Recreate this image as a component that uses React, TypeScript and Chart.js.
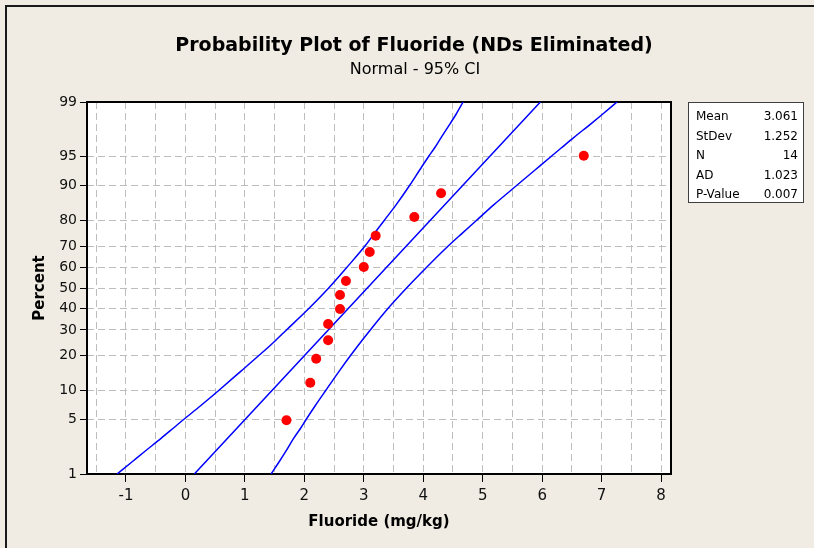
import React, { useEffect, useRef } from "react";
import { Chart, registerables } from "chart.js";

Chart.register(...registerables);

// ---- data ----
const FLUORIDE = [1.7, 2.1, 2.2, 2.4, 2.4, 2.6, 2.6, 2.7, 3.0, 3.1, 3.2, 3.85, 4.3, 6.7];
const PERCENT = [4.9, 11.8, 18.8, 25.7, 32.6, 39.6, 46.5, 53.5, 60.4, 67.4, 74.3, 81.3, 88.2, 95.1];

// fitted line (percent -> fluoride)
const FIT_PCT = [1, 99];
const FIT_X = [0.15, 5.97];

// 95% confidence band, read at percent levels
const CI_PCT = [1, 1.5, 2, 3, 4, 5, 7, 10, 15, 20, 25, 30, 40, 50, 60, 70, 75, 80, 85, 90, 93, 95, 96, 97, 98, 98.5, 99];
const CI_LEFT = [-1.15, -0.89, -0.7, -0.41, -0.2, -0.03, 0.25, 0.56, 0.94, 1.24, 1.49, 1.7, 2.08, 2.41, 2.71, 3.02, 3.17, 3.34, 3.54, 3.77, 3.94, 4.09, 4.19, 4.3, 4.45, 4.55, 4.67];
const CI_RIGHT = [1.44, 1.58, 1.68, 1.82, 1.94, 2.03, 2.18, 2.36, 2.59, 2.78, 2.95, 3.11, 3.41, 3.72, 4.05, 4.42, 4.64, 4.89, 5.18, 5.57, 5.88, 6.15, 6.32, 6.53, 6.82, 7.01, 7.26];

const Y_TICKS = [1, 5, 10, 20, 30, 40, 50, 60, 70, 80, 90, 95, 99];
const X_TICKS = [-1.5, -1, -0.5, 0, 0.5, 1, 1.5, 2, 2.5, 3, 3.5, 4, 4.5, 5, 5.5, 6, 6.5, 7, 7.5, 8];

const STAT_LABELS = ["Mean", "StDev", "N", "AD", "P-Value"];
const STAT_VALUES = ["3.061", "1.252", "14", "1.023", "0.007"];

const TITLE = "Probability Plot of Fluoride (NDs Eliminated)";
const SUBTITLE = "Normal - 95% CI";
const X_TITLE = "Fluoride (mg/kg)";
const Y_TITLE = "Percent";

const FONT = "'DejaVu Sans', Tahoma, Verdana, sans-serif";
const BG = "#F0ECE3";

// inverse standard normal CDF (probability-scale transform)
function probit(p: number): number {
  const a = [-3.969683028665376e1, 2.209460984245205e2, -2.759285104469687e2, 1.38357751867269e2, -3.066479806614716e1, 2.506628277459239];
  const b = [-5.447609879822406e1, 1.615858368580409e2, -1.556989798598866e2, 6.680131188771075e1, -1.328068155288572e1];
  const c = [-7.784894002430293e-3, -3.223964580411365e-1, -2.400758277161838, -2.549732539343734, 4.374664141464968, 2.938163982698783];
  const d = [7.784695709866002e-3, 3.224671290700398e-1, 2.445134137142996, 3.754408661907416];
  const plow = 0.02425;
  const phigh = 1 - plow;
  let q: number, r: number;
  if (p < plow) {
    q = Math.sqrt(-2 * Math.log(p));
    return (((((c[0] * q + c[1]) * q + c[2]) * q + c[3]) * q + c[4]) * q + c[5]) / ((((d[0] * q + d[1]) * q + d[2]) * q + d[3]) * q + 1);
  }
  if (p <= phigh) {
    q = p - 0.5;
    r = q * q;
    return ((((((a[0] * r + a[1]) * r + a[2]) * r + a[3]) * r + a[4]) * r + a[5]) * q) / (((((b[0] * r + b[1]) * r + b[2]) * r + b[3]) * r + b[4]) * r + 1);
  }
  q = Math.sqrt(-2 * Math.log(1 - p));
  return -(((((c[0] * q + c[1]) * q + c[2]) * q + c[3]) * q + c[4]) * q + c[5]) / ((((d[0] * q + d[1]) * q + d[2]) * q + d[3]) * q + 1);
}

const toPts = (xs: number[], ps: number[]) => xs.map((x, i) => ({ x, y: probit(ps[i] / 100) }));

const decorPlugin = {
  id: "decor",
  beforeDraw(chart: any) {
    const { ctx, width, height, chartArea: ca } = chart;
    ctx.save();
    ctx.fillStyle = BG;
    ctx.fillRect(0, 0, width, height);
    ctx.fillStyle = "#FFFFFF";
    ctx.fillRect(ca.left, ca.top, ca.right - ca.left, ca.bottom - ca.top);
    // outer frame (top & left)
    ctx.fillStyle = "#1a1a1a";
    ctx.fillRect(5, 5, width - 5, 2);
    ctx.fillRect(5, 5, 2, height - 5);
    // titles
    ctx.fillStyle = "#000";
    ctx.textAlign = "center";
    ctx.textBaseline = "middle";
    ctx.font = `bold 19px ${FONT}`;
    ctx.fillText(TITLE, 414, 46);
    ctx.font = `16px ${FONT}`;
    ctx.fillText(SUBTITLE, 415, 70);
    ctx.restore();
  },
  beforeDatasetsDraw(chart: any) {
    const { ctx, chartArea: ca } = chart;
    ctx.save();
    ctx.strokeStyle = "#000";
    ctx.lineWidth = 2;
    ctx.strokeRect(ca.left, ca.top, ca.right - ca.left, ca.bottom - ca.top);
    ctx.restore();
  },
  afterDraw(chart: any) {
    const { ctx, chartArea: ca } = chart;
    const bx = ca.right + 17;
    const by = ca.top;
    const bw = 115;
    const bh = 100;
    ctx.save();
    ctx.fillStyle = "#FFFFFF";
    ctx.fillRect(bx, by, bw, bh);
    ctx.strokeStyle = "#404040";
    ctx.lineWidth = 1;
    ctx.strokeRect(bx + 0.5, by + 0.5, bw, bh);
    ctx.fillStyle = "#000";
    ctx.font = `12px ${FONT}`;
    ctx.textBaseline = "middle";
    STAT_LABELS.forEach((lab, i) => {
      const y = by + 15 + i * 19.5;
      ctx.textAlign = "left";
      ctx.fillText(lab, bx + 8, y);
      ctx.textAlign = "right";
      ctx.fillText(STAT_VALUES[i], bx + bw - 5, y);
    });
    ctx.restore();
  },
};

export default function App() {
  const ref = useRef<HTMLCanvasElement | null>(null);

  useEffect(() => {
    if (!ref.current) return;
    const blue = "#0000FF";
    const lineDs = (label: string, data: any[]) => ({
      label,
      data,
      showLine: true,
      borderColor: blue,
      borderWidth: 1.5,
      pointRadius: 0,
      pointHoverRadius: 0,
      cubicInterpolationMode: "monotone",
      fill: false,
    });
    const chart = new Chart(ref.current, {
      type: "scatter",
      data: {
        datasets: [
          {
            label: "Fluoride",
            data: toPts(FLUORIDE, PERCENT),
            backgroundColor: "#FF0000",
            borderWidth: 0,
            pointRadius: 5,
            showLine: false,
          } as any,
          lineDs("Fit", toPts(FIT_X, FIT_PCT)),
          lineDs("Lower", toPts(CI_LEFT, CI_PCT)),
          lineDs("Upper", toPts(CI_RIGHT, CI_PCT)),
        ],
      },
      options: {
        responsive: false,
        animation: false,
        devicePixelRatio: 1,
        layout: { padding: { left: 0, right: 143, top: 102, bottom: 0 } },
        plugins: {
          legend: { display: false },
          tooltip: { enabled: false },
          title: { display: false },
          subtitle: { display: false },
        },
        scales: {
          x: {
            type: "linear",
            min: -1.655,
            max: 8.167,
            afterFit: (s: any) => {
              s.height = 74;
            },
            afterBuildTicks: (s: any) => {
              s.ticks = X_TICKS.map((v) => ({ value: v }));
            },
            ticks: {
              autoSkip: false,
              maxRotation: 0,
              color: "#111",
              padding: 5,
              font: { family: FONT, size: 15 },
              callback: (v: any) => (Number.isInteger(v) ? String(v) : ""),
            },
            grid: {
              color: "#BDBDBD",
              lineWidth: 1,
              tickLength: 8,
              tickWidth: 1,
              tickColor: (c: any) => (c.tick && Number.isInteger(c.tick.value) ? "#000" : "rgba(0,0,0,0)"),
            },
            border: { display: false, dash: [7, 4] },
            title: {
              display: true,
              text: X_TITLE,
              color: "#000",
              font: { family: FONT, size: 15, weight: "bold" },
              padding: { top: 0, bottom: 17 },
            },
          },
          y: {
            type: "linear",
            min: probit(0.01),
            max: probit(0.99),
            afterFit: (s: any) => {
              s.width = 87;
            },
            afterBuildTicks: (s: any) => {
              s.ticks = Y_TICKS.map((p) => ({ value: probit(p / 100) }));
            },
            ticks: {
              autoSkip: false,
              color: "#111",
              padding: 3,
              font: { family: FONT, size: 14 },
              callback: (_v: any, i: number) => String(Y_TICKS[i]),
            },
            grid: {
              color: "#BDBDBD",
              lineWidth: 1,
              tickLength: 7,
              tickWidth: 1,
              tickColor: "#000",
            },
            border: { display: false, dash: [7, 4] },
            title: {
              display: true,
              text: Y_TITLE,
              color: "#000",
              font: { family: FONT, size: 15, weight: "bold" },
              padding: { top: 31, bottom: 0 },
            },
          },
        },
      },
      plugins: [decorPlugin],
    } as any);
    return () => chart.destroy();
  }, []);

  return (
    <div style={{ position: "absolute", left: 0, top: 0, width: 814, height: 548 }}>
      <canvas ref={ref} width={814} height={548} style={{ display: "block", width: 814, height: 548 }} />
    </div>
  );
}
